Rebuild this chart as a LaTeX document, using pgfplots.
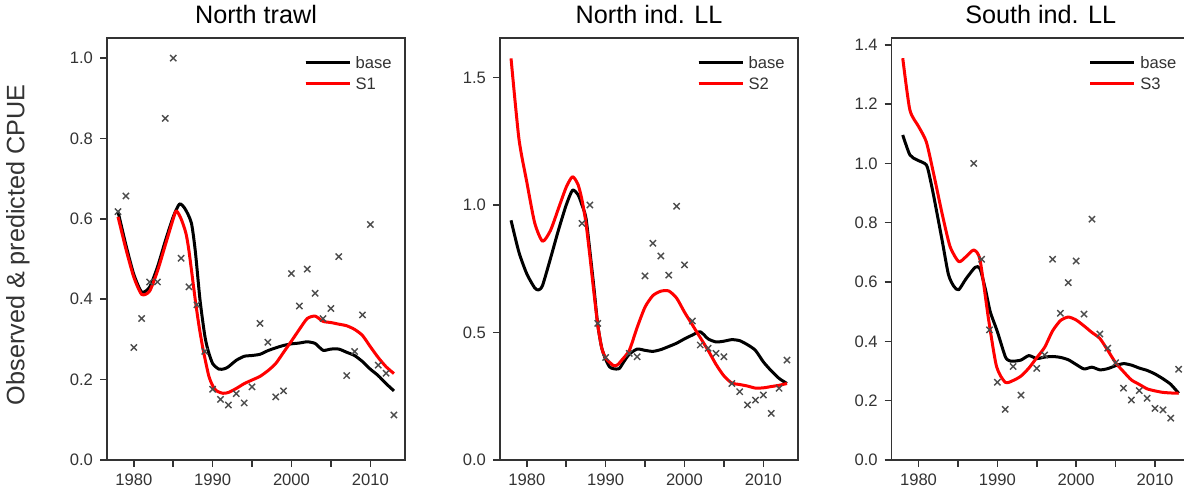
\documentclass[border=0pt]{standalone}
\usepackage{fontspec}
\setmainfont{Liberation Sans}
\usepackage{pgfplots}
\pgfplotsset{compat=1.18}
\begin{document}
\begin{tikzpicture}
\pgfplotsset{
  every axis title shift=0pt,
  cpue/.style={
    scale only axis, width=149pt, height=211pt,
    xmin=1976.6, xmax=2014.4, ymin=0,
    xtick={1980,1985,...,2010}, xticklabels={1980,,1990,,2000,,2010},
    tick align=outside, tick pos=left, major tick length=3.5pt,
    axis line style={line width=0.75pt, black!80},
    every tick/.style={line width=0.75pt, black!80},
    ticklabel style={font=\fontsize{8.3}{10}\selectfont, text=black!80},
    /pgf/number format/assume math mode=true,
    yticklabel style={/pgf/number format/fixed, /pgf/number format/fixed zerofill, /pgf/number format/precision=1},
    title style={font=\fontsize{12.6}{15}\selectfont, at={(0.5,1)}, anchor=base, yshift=7pt},
    legend style={draw=none, fill=none, at={(1,1)}, anchor=north east, xshift=-4.25pt, yshift=-6.75pt,
      inner sep=0pt, font=\fontsize{8.3}{10}\selectfont, text=black!80,
      nodes={text height=6pt, text depth=0pt, inner sep=2.25pt}},
    legend cell align=left,
    legend image code/.code={\draw[##1, line width=1.5pt] (0pt,0pt) -- (16.5pt,0pt); \path (0pt,0pt) -- (22pt,0pt);},
  },
  obs/.style={only marks, mark=x, mark size=2.2pt, black!70, mark options={line width=0.7pt}, forget plot},
  base/.style={black, line width=1.5pt, smooth, tension=0.4, line join=round, no marks},
  sens/.style={red, line width=1.5pt, smooth, tension=0.4, line join=round, no marks},
}
% ---------------- Panel 1 ----------------
\begin{axis}[cpue, at={(53.5pt,16pt)}, anchor=south west, ymax=1.05,
  ytick={0,0.2,...,1.0}, title={North trawl},
  ylabel={Observed \& predicted CPUE},
  ylabel style={font=\fontsize{12.6}{15}\selectfont, text=black!80, at={(axis description cs:-0.299,0.51)}, anchor=center}]
\addplot[obs] coordinates {(1978,0.618)(1979,0.657)(1980,0.28)(1981,0.352)(1982,0.443)(1983,0.443)(1984,0.85)(1985,1.0)(1986,0.502)(1987,0.431)(1988,0.386)(1989,0.27)(1990,0.176)(1991,0.151)(1992,0.137)(1993,0.165)(1994,0.142)(1995,0.182)(1996,0.34)(1997,0.293)(1998,0.157)(1999,0.172)(2000,0.464)(2001,0.383)(2002,0.475)(2003,0.415)(2004,0.352)(2005,0.377)(2006,0.506)(2007,0.21)(2008,0.27)(2009,0.361)(2010,0.586)(2011,0.236)(2012,0.216)(2013,0.112)};
\addplot[base] coordinates {(1978,0.618)(1979,0.535)(1980,0.462)(1981,0.418)(1982,0.43)(1983,0.48)(1984,0.545)(1985,0.605)(1985.8,0.637)(1986.5,0.625)(1987.3,0.59)(1987.8,0.52)(1988.4,0.398)(1989,0.31)(1989.4,0.274)(1990,0.24)(1990.8,0.226)(1991.5,0.227)(1992,0.232)(1993,0.248)(1994,0.258)(1995,0.26)(1996,0.263)(1997,0.272)(1998,0.279)(1999,0.285)(2000,0.289)(2001,0.291)(2002,0.294)(2003,0.29)(2004,0.273)(2005,0.276)(2006,0.276)(2007,0.268)(2008,0.26)(2009,0.245)(2010,0.226)(2011,0.21)(2012,0.19)(2013,0.172)};
\addplot[sens] coordinates {(1978,0.605)(1979,0.525)(1980,0.455)(1981,0.412)(1982,0.42)(1983,0.47)(1984,0.535)(1985,0.6)(1985.4,0.62)(1986,0.6)(1986.6,0.565)(1987,0.52)(1987.8,0.398)(1988.3,0.33)(1988.8,0.274)(1989.5,0.21)(1990,0.185)(1990.5,0.172)(1991.3,0.166)(1992,0.168)(1993,0.178)(1994,0.19)(1995,0.199)(1996,0.208)(1997,0.222)(1998,0.24)(1999,0.268)(2000,0.296)(2001,0.325)(2002,0.352)(2003,0.358)(2004,0.345)(2005,0.342)(2006,0.338)(2007,0.334)(2008,0.325)(2009,0.31)(2010,0.282)(2011,0.255)(2012,0.232)(2013,0.215)};
\legend{base,S1}
\end{axis}
% ---------------- Panel 2 ----------------
\begin{axis}[cpue, at={(250pt,16pt)}, anchor=south west, ymax=1.655,
  ytick={0,0.5,1.0,1.5}, title={North ind. LL}]
\addplot[obs] coordinates {(1987,0.928)(1988,1.0)(1989,0.536)(1990,0.402)(1993,0.418)(1994,0.405)(1995,0.722)(1996,0.85)(1997,0.8)(1998,0.725)(1999,0.995)(2000,0.765)(2001,0.545)(2002,0.451)(2003,0.438)(2004,0.418)(2005,0.405)(2006,0.3)(2007,0.268)(2008,0.216)(2009,0.235)(2010,0.255)(2011,0.183)(2012,0.281)(2013,0.392)};
\addplot[base] coordinates {(1978,0.94)(1979,0.815)(1980,0.73)(1981,0.675)(1981.5,0.667)(1982,0.685)(1983,0.79)(1984,0.9)(1985,1.0)(1985.8,1.058)(1986.5,1.04)(1987,1.0)(1987.5,0.95)(1988,0.82)(1988.5,0.68)(1989,0.53)(1989.5,0.44)(1990,0.395)(1990.5,0.365)(1991,0.358)(1991.7,0.358)(1992.3,0.385)(1993,0.415)(1994,0.435)(1995,0.43)(1996,0.426)(1997,0.433)(1998,0.445)(1999,0.458)(2000,0.475)(2001,0.49)(2002,0.503)(2003,0.475)(2004,0.463)(2005,0.466)(2006,0.472)(2007,0.468)(2008,0.452)(2009,0.43)(2010,0.385)(2011,0.35)(2012,0.32)(2013,0.3)};
\addplot[sens] coordinates {(1978,1.575)(1979,1.26)(1980,1.09)(1981,0.93)(1982,0.858)(1983,0.9)(1984,0.985)(1985,1.07)(1985.8,1.111)(1986.5,1.08)(1987,1.02)(1987.5,0.93)(1988,0.8)(1988.5,0.66)(1989,0.53)(1989.5,0.44)(1990,0.4)(1991,0.37)(1991.5,0.373)(1992,0.39)(1993,0.43)(1994,0.52)(1995,0.6)(1996,0.645)(1997,0.662)(1998,0.663)(1999,0.635)(2000,0.58)(2001,0.53)(2002,0.48)(2003,0.43)(2004,0.375)(2005,0.33)(2006,0.302)(2007,0.296)(2008,0.29)(2009,0.282)(2010,0.283)(2011,0.288)(2012,0.293)(2013,0.3)};
\legend{base,S2}
\end{axis}
% ---------------- Panel 3 ----------------
\begin{axis}[cpue, at={(445.85pt,16pt)}, anchor=south west, ymax=1.423,
  ytick={0,0.2,...,1.4}, title={South ind. LL}]
\addplot[obs] coordinates {(1987,1.0)(1988,0.677)(1989,0.439)(1990,0.262)(1991,0.171)(1992,0.315)(1993,0.219)(1995,0.309)(1996,0.354)(1997,0.677)(1998,0.495)(1999,0.598)(2000,0.671)(2001,0.492)(2002,0.812)(2003,0.425)(2004,0.377)(2005,0.328)(2006,0.242)(2007,0.202)(2008,0.234)(2009,0.208)(2010,0.174)(2011,0.169)(2012,0.141)(2013,0.306)};
\addplot[base] coordinates {(1978,1.096)(1978.9,1.029)(1979.8,1.012)(1981,0.995)(1981.5,0.945)(1982,0.88)(1983,0.74)(1983.8,0.625)(1984.5,0.585)(1985.1,0.574)(1986,0.61)(1987.2,0.65)(1987.8,0.645)(1988.5,0.574)(1989.1,0.5)(1990,0.433)(1991,0.349)(1991.5,0.335)(1992,0.333)(1993,0.337)(1994,0.352)(1995,0.342)(1996,0.347)(1997,0.349)(1998,0.346)(1999,0.338)(2000,0.322)(2001,0.307)(2002,0.313)(2003,0.304)(2004,0.308)(2005,0.318)(2006,0.325)(2007,0.32)(2008,0.31)(2009,0.302)(2010,0.29)(2011,0.274)(2012,0.255)(2013,0.225)};
\addplot[sens] coordinates {(1978,1.355)(1978.9,1.181)(1980,1.125)(1981,1.072)(1982,0.955)(1983,0.83)(1984,0.72)(1985.1,0.669)(1986,0.685)(1987,0.708)(1987.8,0.675)(1988.9,0.472)(1989.9,0.315)(1991,0.262)(1992,0.268)(1993,0.283)(1994,0.31)(1995,0.345)(1996,0.38)(1997,0.435)(1998,0.47)(1999,0.482)(2000,0.472)(2001,0.452)(2002,0.43)(2003,0.41)(2004,0.37)(2005,0.328)(2006,0.298)(2007,0.27)(2008,0.255)(2009,0.24)(2010,0.233)(2011,0.228)(2012,0.226)(2013,0.225)};
\legend{base,S3}
\end{axis}
\pgfresetboundingbox
\path[use as bounding box] (0pt,0pt) rectangle (592pt,246pt);
\end{tikzpicture}
\end{document}
